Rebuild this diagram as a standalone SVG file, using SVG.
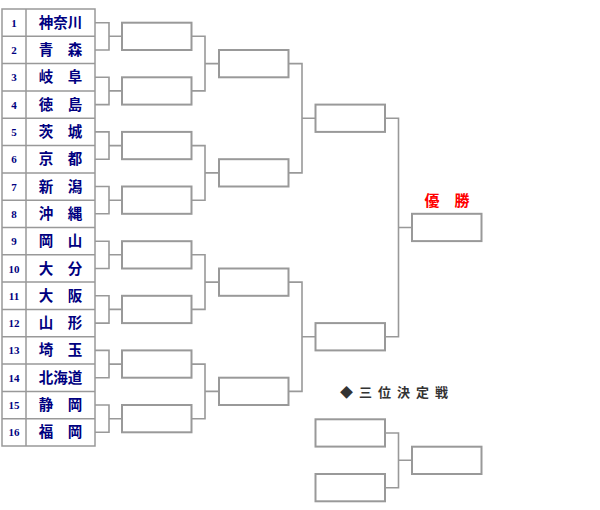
<svg xmlns="http://www.w3.org/2000/svg" width="600" height="510" viewBox="0 0 600 510">
<style>
.cell{fill:none;stroke:#999;stroke-width:1.5}
.box{fill:#fff;stroke:#999;stroke-width:2}
.con{fill:none;stroke:#999;stroke-width:1.6}
.num{font-family:"Liberation Serif","DejaVu Serif",serif;font-size:11px;font-weight:bold;fill:#000080;text-anchor:middle}
.name{font-family:"Noto Sans CJK JP","Noto Sans CJK SC",sans-serif;font-size:14.5px;font-weight:bold;fill:#000080;text-anchor:middle}
.win{font-family:"Noto Sans CJK JP",sans-serif;font-size:15px;font-weight:bold;fill:#ff0000}
.third{font-family:"Noto Sans CJK JP",sans-serif;font-size:13px;font-weight:bold;fill:#333;letter-spacing:6px}
</style>
<g id="table">
<rect class="cell" x="2" y="9" width="93" height="437"/>
<path class="cell" d="M26 9V446M2 36.3H95M2 63.6H95M2 90.9H95M2 118.25H95M2 145.6H95M2 172.9H95M2 200.2H95M2 227.5H95M2 254.8H95M2 282.1H95M2 309.4H95M2 336.75H95M2 364.1H95M2 391.4H95M2 418.7H95"/>
</g>
<g id="team1"><text class="num" x="14" y="26.7">1</text><text class="name" x="60.5" y="27.7">神奈川</text></g>
<g id="team2"><text class="num" x="14" y="54">2</text><text class="name" x="60.5" y="55">青　森</text></g>
<g id="team3"><text class="num" x="14" y="81.3">3</text><text class="name" x="60.5" y="82.3">岐　阜</text></g>
<g id="team4"><text class="num" x="14" y="108.6">4</text><text class="name" x="60.5" y="109.6">徳　島</text></g>
<g id="team5"><text class="num" x="14" y="135.9">5</text><text class="name" x="60.5" y="136.9">茨　城</text></g>
<g id="team6"><text class="num" x="14" y="163.2">6</text><text class="name" x="60.5" y="164.2">京　都</text></g>
<g id="team7"><text class="num" x="14" y="190.5">7</text><text class="name" x="60.5" y="191.5">新　潟</text></g>
<g id="team8"><text class="num" x="14" y="217.8">8</text><text class="name" x="60.5" y="218.8">沖　縄</text></g>
<g id="team9"><text class="num" x="14" y="245.2">9</text><text class="name" x="60.5" y="246.2">岡　山</text></g>
<g id="team10"><text class="num" x="14" y="272.5">10</text><text class="name" x="60.5" y="273.5">大　分</text></g>
<g id="team11"><text class="num" x="14" y="299.8">11</text><text class="name" x="60.5" y="300.8">大　阪</text></g>
<g id="team12"><text class="num" x="14" y="327.1">12</text><text class="name" x="60.5" y="328.1">山　形</text></g>
<g id="team13"><text class="num" x="14" y="354.4">13</text><text class="name" x="60.5" y="355.4">埼　玉</text></g>
<g id="team14"><text class="num" x="14" y="381.7">14</text><text class="name" x="60.5" y="382.7">北海道</text></g>
<g id="team15"><text class="num" x="14" y="409">15</text><text class="name" x="60.5" y="410">静　岡</text></g>
<g id="team16"><text class="num" x="14" y="436.3">16</text><text class="name" x="60.5" y="437.3">福　岡</text></g>
<g id="connectors">
<path class="con" d="M95 22.7H109V50H95M109 36.3H122M95 77.3H109V104.6H95M109 90.9H122M95 131.9H109V159.2H95M109 145.6H122M95 186.5H109V213.8H95M109 200.2H122M95 241.2H109V268.5H95M109 254.8H122M95 295.8H109V323.1H95M109 309.4H122M95 350.4H109V377.7H95M109 364.1H122M95 405H109V432.3H95M109 418.7H122"/>
<path class="con" d="M191.5 36.3H205V90.9H191.5M205 63.6H219M191.5 145.6H205V200.2H191.5M205 172.9H219M191.5 254.8H205V309.4H191.5M205 282.1H219M191.5 364.1H205V418.7H191.5M205 391.4H219"/>
<path class="con" d="M288.5 63.6H302V172.9H288.5M302 118.25H315.5M288.5 282.1H302V391.4H288.5M302 336.75H315.5"/>
<path class="con" d="M385 118.25H398.5V336.75H385M398.5 227.5H412"/>
<path class="con" d="M385 433H398.5V487.7H385M398.5 460.3H412"/>
</g>
<g id="r1">
<rect class="box" x="122" y="22.7" width="69.5" height="27.3"/>
<rect class="box" x="122" y="77.3" width="69.5" height="27.3"/>
<rect class="box" x="122" y="131.9" width="69.5" height="27.3"/>
<rect class="box" x="122" y="186.5" width="69.5" height="27.3"/>
<rect class="box" x="122" y="241.2" width="69.5" height="27.3"/>
<rect class="box" x="122" y="295.8" width="69.5" height="27.3"/>
<rect class="box" x="122" y="350.4" width="69.5" height="27.3"/>
<rect class="box" x="122" y="405" width="69.5" height="27.3"/>
</g>
<g id="r2">
<rect class="box" x="219" y="50" width="69.5" height="27.3"/>
<rect class="box" x="219" y="159.2" width="69.5" height="27.3"/>
<rect class="box" x="219" y="268.5" width="69.5" height="27.3"/>
<rect class="box" x="219" y="377.7" width="69.5" height="27.3"/>
</g>
<g id="r3">
<rect class="box" x="315.5" y="104.6" width="69.5" height="27.3"/>
<rect class="box" x="315.5" y="323.1" width="69.5" height="27.3"/>
</g>
<g id="final">
<text class="win" x="424.5" y="205.5">優　勝</text>
<rect class="box" x="412" y="213.8" width="69.5" height="27.3"/>
</g>
<g id="third-place">
<text class="third" x="340" y="397">◆三位決定戦</text>
<rect class="box" x="315.5" y="419.3" width="69.5" height="27.3"/>
<rect class="box" x="315.5" y="474" width="69.5" height="27.3"/>
<rect class="box" x="412" y="446.7" width="69.5" height="27.3"/>
</g>
</svg>
